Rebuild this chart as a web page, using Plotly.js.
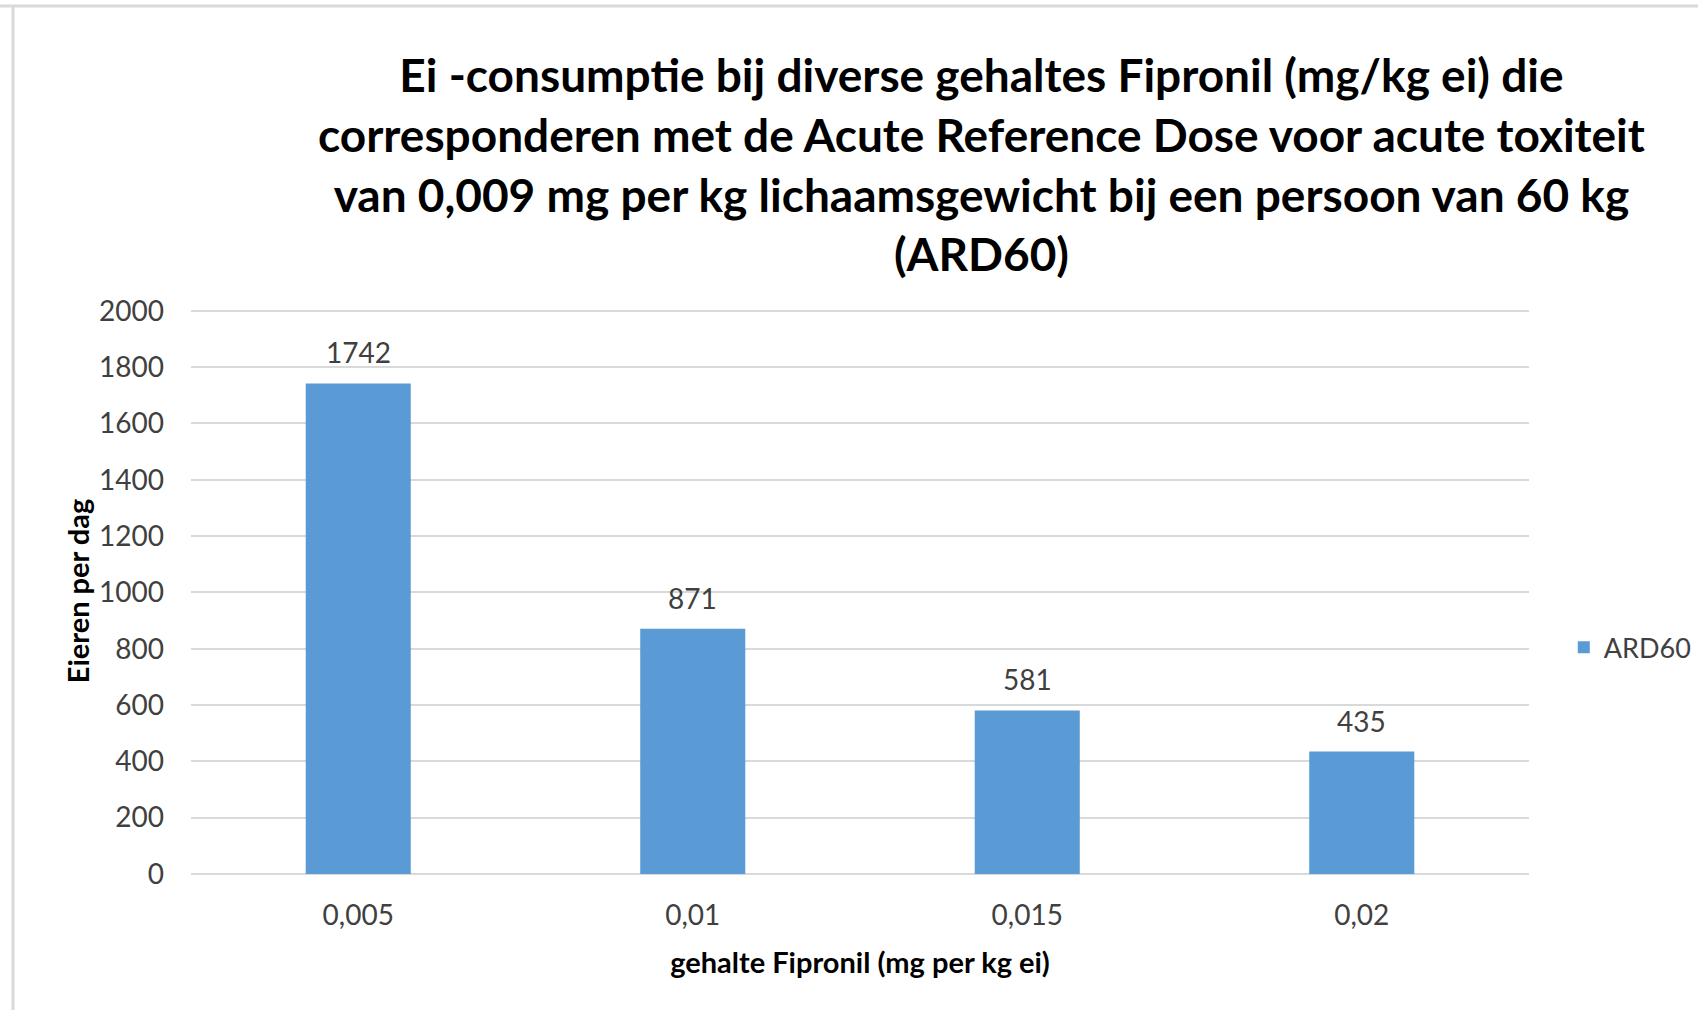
<!DOCTYPE html>
<html>
<head>
<meta charset="utf-8">
<script src="https://cdn.plot.ly/plotly-3.0.1.min.js"></script>
<style>html,body{margin:0;padding:0;background:#fff;}#chart{width:1698px;height:1010px;}</style>
</head>
<body>
<div id="chart"></div>
<script>
const categories = ["0,005", "0,01", "0,015", "0,02"];
const ard60 = [1742, 871, 581, 435];
const seriesName = "ARD60";
const yTicks = [0, 200, 400, 600, 800, 1000, 1200, 1400, 1600, 1800, 2000];

const titleText = "Ei -consumptie bij diverse gehaltes Fipronil (mg/kg ei) die<br>corresponderen met de Acute Reference Dose voor acute toxiteit<br>van 0,009 mg per kg lichaamsgewicht bij een persoon van 60 kg<br>(ARD60)";

const trace = {
  type: "bar",
  x: categories,
  y: ard60,
  name: seriesName,
  marker: {color: "#5b9bd5"},
  showlegend: true,
  hoverinfo: "x+y"
};

const annotations = categories.map((c, i) => ({
  x: c, y: ard60[i], xref: "x", yref: "y",
  text: String(ard60[i]), showarrow: false,
  yanchor: "bottom", yshift: 12,
  font: {family: "Lato, sans-serif", size: 28, color: "#404040"}
}));

// plot area: left 191, right 1529, bottom 874; y range top slightly above 2000
const PT = 308, PB = 874, PL = 191, PR = 1529;
const PH = PB - PT, PW = PR - PL;

const layout = {
  width: 1698, height: 1010,
  paper_bgcolor: "#ffffff", plot_bgcolor: "#ffffff",
  margin: {l: PL, r: 1698 - PR, t: PT, b: 1010 - PB, autoexpand: false},
  font: {family: "Lato, sans-serif", color: "#404040"},
  title: {
    text: titleText,
    font: {family: "Lato, sans-serif", size: 46, color: "#000000", weight: "bold"},
    x: 0.578, xref: "container", xanchor: "center",
    y: 1 - 92/1010, yref: "container", yanchor: "top"
  },
  bargap: 0.686,
  xaxis: {
    type: "category",
    showgrid: false, zeroline: false, showline: false,
    ticks: "", ticklabelstandoff: 22,
    tickfont: {family: "Lato, sans-serif", size: 28, color: "#404040"},
    title: {text: "gehalte Fipronil (mg per kg ei)", standoff: 22,
      font: {family: "Lato, sans-serif", size: 29, color: "#000000", weight: "bold"}},
    automargin: false
  },
  yaxis: {
    range: [0, 2010], tickvals: yTicks, ticktext: yTicks.map(String),
    showgrid: true, gridcolor: "#d9d9d9", gridwidth: 1.5,
    zeroline: true, zerolinecolor: "#d9d9d9", zerolinewidth: 1.5,
    showline: false, ticks: "", ticklabelstandoff: 26,
    tickfont: {family: "Lato, sans-serif", size: 28, color: "#404040"},
    title: {text: "Eieren per dag", standoff: 0,
      font: {family: "Lato, sans-serif", size: 29, color: "#000000", weight: "bold"}},
    automargin: false
  },
  legend: {
    x: 1.026, xanchor: "left", y: 0.40, yanchor: "middle",
    font: {family: "Lato, sans-serif", size: 27, color: "#404040"},
    bgcolor: "rgba(0,0,0,0)", itemwidth: 30
  },
  annotations: annotations,
  shapes: [
    {type: "line", xref: "paper", yref: "paper", x0: (0-PL)/PW, x1: (1698-PL)/PW, y0: (PB-6)/PH, y1: (PB-6)/PH, line: {color: "#d9d9d9", width: 3}},
    {type: "line", xref: "paper", yref: "paper", x0: (13-PL)/PW, x1: (13-PL)/PW, y0: (PB-6)/PH, y1: (PB-1010)/PH, line: {color: "#d9d9d9", width: 3}}
  ]
};

Plotly.newPlot("chart", [trace], layout, {displayModeBar: false, responsive: false});
</script>
</body>
</html>
